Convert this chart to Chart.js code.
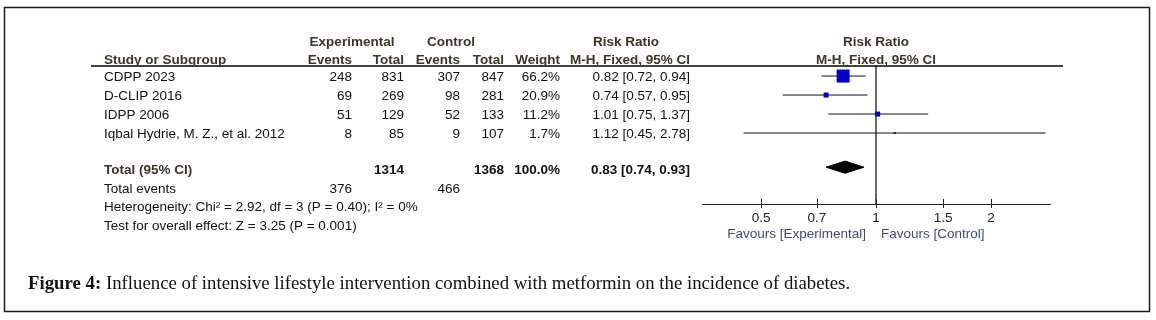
<!DOCTYPE html>
<html>
<head>
<meta charset="utf-8">
<script src="https://cdn.jsdelivr.net/npm/chart.js@4.4.0/dist/chart.umd.min.js"></script>
<style>
  html, body { margin: 0; padding: 0; background: #fff; }
  canvas { display: block; }
</style>
</head>
<body>
<canvas id="forest" width="1156" height="320"></canvas>
<script>
// --- study data ---
const studies = ['CDPP 2023', 'D-CLIP 2016', 'IDPP 2006', 'Iqbal Hydrie, M. Z., et al. 2012'];
const expEvents = [248, 69, 51, 8];
const expTotal = [831, 269, 129, 85];
const ctrlEvents = [307, 98, 52, 9];
const ctrlTotal = [847, 281, 133, 107];
const weights = [66.2, 20.9, 11.2, 1.7];
const riskRatio = [0.82, 0.74, 1.01, 1.12];
const ciLow = [0.72, 0.57, 0.75, 0.45];
const ciHigh = [0.94, 0.95, 1.37, 2.78];

const totalRR = 0.83;
const totalLow = 0.74;
const totalHigh = 0.93;
const totalExp = 1314;
const totalCtrl = 1368;
const totalExpEvents = 376;
const totalCtrlEvents = 466;

const tickVals = [0.5, 0.7, 1, 1.5, 2];

// square side in px, roughly as drawn
const boxSide = [13, 5, 5, 2];

const TOTAL_ROW = 4.8;
const HEADER = '#3d3526';
const FAV = '#3f4b7e';
const SANS = '"Liberation Sans", Arial, sans-serif';
const FS = 13.5;

const ci = (r, l, h) => `${r.toFixed(2)} [${l.toFixed(2)}, ${h.toFixed(2)}]`;

// --- table text, frame and caption ---
const tablePlugin = {
    id: 'table',
    afterDraw(chart) {
        const ctx = chart.ctx;
        const xs = chart.scales.x;
        const ys = chart.scales.y;
        ctx.save();

        // outer frame
        ctx.strokeStyle = '#1a1a1a';
        ctx.lineWidth = 1.5;
        ctx.strokeRect(4.5, 7.5, 1145, 304);

        // header rule
        ctx.lineWidth = 1.5;
        ctx.strokeStyle = '#000';
        ctx.beginPath();
        ctx.moveTo(91, 66);
        ctx.lineTo(1063, 66);
        ctx.stroke();

        // tick marks crossing the axis
        const axisY = chart.chartArea.bottom;
        ctx.lineWidth = 1;
        ctx.strokeStyle = '#222';
        tickVals.forEach(v => {
            const px = Math.round(xs.getPixelForValue(v)) + 0.5;
            ctx.beginPath();
            ctx.moveTo(px, axisY - 5);
            ctx.lineTo(px, axisY + 4);
            ctx.stroke();
        });

        ctx.textBaseline = 'middle';
        const text = (s, x, y, align, font, color) => {
            ctx.font = font;
            ctx.fillStyle = color;
            ctx.textAlign = align;
            ctx.fillText(s, x, y);
        };
        const bold = `bold ${FS}px ${SANS}`;
        const norm = `${FS}px ${SANS}`;

        // headers
        text('Experimental', 352, 42, 'center', bold, HEADER);
        text('Control', 451, 42, 'center', bold, HEADER);
        text('Risk Ratio', 626, 42, 'center', bold, HEADER);
        text('Risk Ratio', xs.getPixelForValue(1), 42, 'center', bold, HEADER);
        text('Study or Subgroup', 104, 60, 'left', bold, HEADER);
        text('Events', 352, 60, 'right', bold, HEADER);
        text('Total', 404, 60, 'right', bold, HEADER);
        text('Events', 460, 60, 'right', bold, HEADER);
        text('Total', 504, 60, 'right', bold, HEADER);
        text('Weight', 560, 60, 'right', bold, HEADER);
        text('M-H, Fixed, 95% CI', 690, 60, 'right', bold, HEADER);
        text('M-H, Fixed, 95% CI', xs.getPixelForValue(1), 60, 'center', bold, HEADER);

        // study rows
        studies.forEach((name, i) => {
            const y = ys.getPixelForValue(i) + 1.5;
            text(name, 104, y, 'left', norm, '#111');
            text(String(expEvents[i]), 352, y, 'right', norm, '#111');
            text(String(expTotal[i]), 404, y, 'right', norm, '#111');
            text(String(ctrlEvents[i]), 460, y, 'right', norm, '#111');
            text(String(ctrlTotal[i]), 504, y, 'right', norm, '#111');
            text(weights[i].toFixed(1) + '%', 560, y, 'right', norm, '#111');
            text(ci(riskRatio[i], ciLow[i], ciHigh[i]), 690, y, 'right', norm, '#111');
        });

        // total row
        const ty = ys.getPixelForValue(TOTAL_ROW) + 3;
        text('Total (95% CI)', 104, ty, 'left', bold, HEADER);
        text(String(totalExp), 404, ty, 'right', bold, '#111');
        text(String(totalCtrl), 504, ty, 'right', bold, '#111');
        text('100.0%', 560, ty, 'right', bold, '#111');
        text(ci(totalRR, totalLow, totalHigh), 690, ty, 'right', bold, '#111');

        text('Total events', 104, 189, 'left', norm, '#111');
        text(String(totalExpEvents), 352, 189, 'right', norm, '#111');
        text(String(totalCtrlEvents), 460, 189, 'right', norm, '#111');
        text('Heterogeneity: Chi\u00b2 = 2.92, df = 3 (P = 0.40); I\u00b2 = 0%', 104, 207, 'left', norm, '#111');
        text('Test for overall effect: Z = 3.25 (P = 0.001)', 104, 226, 'left', norm, '#111');

        // favours labels
        const x1 = xs.getPixelForValue(1);
        text('Favours [Experimental]', x1 - 10, 234, 'right', norm, FAV);
        text('Favours [Control]', x1 + 5, 234, 'left', norm, FAV);

        // caption
        const serif = '"Liberation Serif", "Times New Roman", serif';
        ctx.font = `bold 18.8px ${serif}`;
        ctx.fillStyle = '#111';
        ctx.textAlign = 'left';
        const lead = 'Figure 4:';
        ctx.fillText(lead, 28, 284);
        const w = ctx.measureText(lead).width;
        ctx.font = `18.8px ${serif}`;
        ctx.fillText(' Influence of intensive lifestyle intervention combined with metformin on the incidence of diabetes.', 28 + w, 284);

        ctx.restore();
    }
};

// --- datasets ---
const squares = {
    label: 'studies',
    data: riskRatio.map((r, i) => ({ x: r, y: i })),
    pointStyle: 'rect',
    pointRadius: boxSide.map(s => s / Math.SQRT2),
    backgroundColor: '#0000c8',
    borderColor: '#0000c8',
    borderWidth: 0,
    showLine: false
};

const h = 0.32;
const diamond = {
    label: 'total',
    data: [
        { x: totalLow, y: TOTAL_ROW },
        { x: totalRR, y: TOTAL_ROW - h },
        { x: totalHigh, y: TOTAL_ROW },
        { x: totalRR, y: TOTAL_ROW + h },
        { x: totalLow, y: TOTAL_ROW }
    ],
    showLine: true,
    fill: 'shape',
    backgroundColor: '#000',
    borderColor: '#000',
    borderWidth: 1,
    pointRadius: 0,
    tension: 0
};

const ciLines = studies.map((s, i) => ({
    label: s,
    data: [{ x: ciLow[i], y: i }, { x: ciHigh[i], y: i }],
    showLine: true,
    borderColor: '#111',
    borderWidth: 1,
    pointRadius: 0
}));

const nullLine = {
    label: 'no effect',
    data: [{ x: 1, y: -0.53 }, { x: 1, y: 6.74 }],
    showLine: true,
    borderColor: '#555',
    borderWidth: 1,
    pointRadius: 0
};

Chart.defaults.font.family = SANS;
Chart.defaults.font.size = FS;

new Chart(document.getElementById('forest'), {
    type: 'scatter',
    data: { datasets: [squares, diamond, ...ciLines, nullLine] },
    options: {
        responsive: false,
        animation: false,
        events: [],
        layout: { padding: { left: 702, right: 106, top: 66, bottom: 86 } },
        plugins: { legend: { display: false }, tooltip: { enabled: false } },
        scales: {
            x: {
                type: 'logarithmic',
                min: 0.35,
                max: 1 / 0.35,
                afterBuildTicks: scale => { scale.ticks = tickVals.map(v => ({ value: v })); },
                afterFit: scale => { scale.height = 30; },
                border: { display: true, color: '#222', width: 1 },
                grid: { display: false },
                ticks: {
                    color: '#222',
                    padding: -2,
                    autoSkip: false,
                    maxRotation: 0,
                    callback: v => String(v)
                }
            },
            y: {
                display: false,
                reverse: true,
                min: -0.53,
                max: 6.74
            }
        }
    },
    plugins: [tablePlugin]
});
</script>
</body>
</html>
